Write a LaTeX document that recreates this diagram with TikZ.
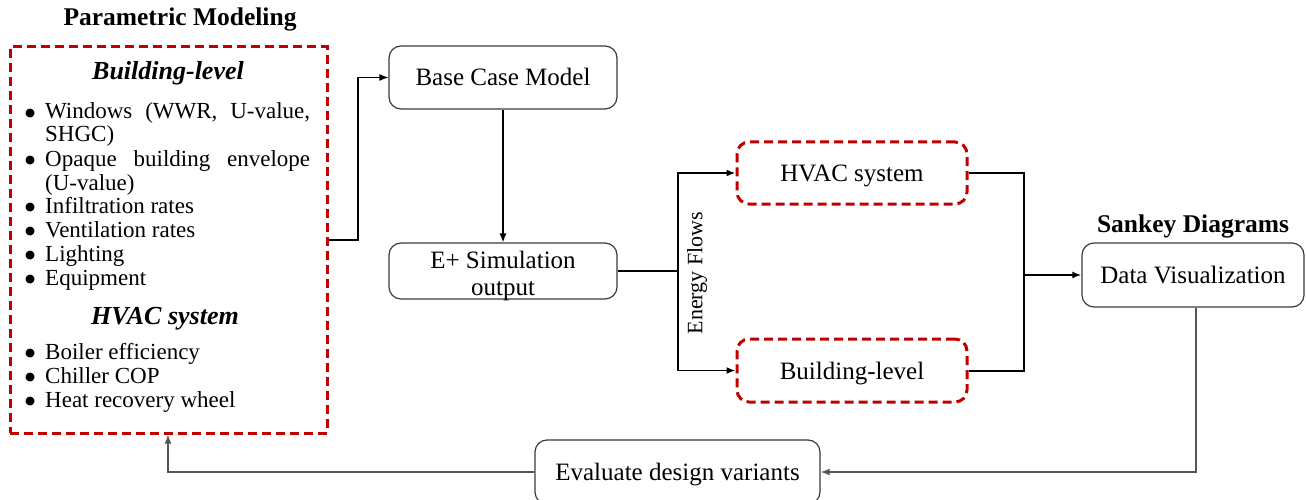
\documentclass[tikz,border=0pt]{standalone}
\usepackage{fontspec}
\setmainfont{Liberation Serif}
\newfontfamily\bulletfont{DejaVu Sans}
\usetikzlibrary{arrows.meta}
\definecolor{dred}{HTML}{C00000}
\definecolor{boxgray}{HTML}{3A3A3A}
\definecolor{fbgray}{HTML}{555555}
\newcommand{\bul}{\makebox[21pt][l]{\hspace{1pt}\raisebox{2.5pt}{\bulletfont\fontsize{11.5}{11.5}\selectfont ●}}}
\begin{document}
\begin{tikzpicture}[x=1pt,y=-1pt,
  proc/.style={draw=boxgray, line width=1.2pt, rounded corners=12pt, inner sep=0pt, align=center, font=\fontsize{25}{27}\selectfont, text height=17pt, text depth=0pt},
  boxonly/.style={draw=boxgray, line width=1.2pt, rounded corners=12pt, inner sep=0pt},
  redproc/.style={draw=dred, line width=3pt, dash pattern=on 9pt off 5pt, rounded corners=12pt, inner sep=0pt, align=center, font=\fontsize{25}{27}\selectfont, text height=17pt, text depth=0pt},
  conn/.style={line width=1.3pt, -{Latex[length=9pt,width=7pt]}},
  fbconn/.style={draw=fbgray, line width=1.6pt, -{Latex[length=9pt,width=7pt]}},
  thickline/.style={line width=2pt},
  item/.style={anchor=base west, inner sep=0pt, font=\fontsize{23}{25}\selectfont},
  subhead/.style={anchor=base, inner sep=0pt, font=\fontsize{26}{28}\selectfont\bfseries\itshape},
  heading/.style={anchor=base, inner sep=0pt, font=\fontsize{25.5}{28}\selectfont\bfseries}
]
\useasboundingbox (0,0) rectangle (1306,500);

% Parametric modelling box
\node[heading] (ttl) at (180,26) {Parametric Modeling};
\node[draw=dred, line width=3pt, dash pattern=on 9pt off 5pt, minimum width=317pt, minimum height=386pt, inner sep=0pt] (param) at (168.5,240) {};
\node[subhead] (sh1) at (168,80) {Building-level};
\node[item] (i1) at (24,119) {\bul\makebox[265pt][s]{Windows (WWR, U-value,}};
\node[item] (i1b) at (45,142) {SHGC)};
\node[item] (i2) at (24,166) {\bul\makebox[265pt][s]{Opaque building envelope}};
\node[item] (i2b) at (45,190) {(U-value)};
\node[item] (i3) at (24,213) {\bul Infiltration rates};
\node[item] (i4) at (24,237) {\bul Ventilation rates};
\node[item] (i5) at (24,261) {\bul Lighting};
\node[item] (i6) at (24,285) {\bul Equipment};
\node[subhead] (sh2) at (165,324) {HVAC system};
\node[item] (i7) at (24,359) {\bul Boiler efficiency};
\node[item] (i8) at (24,383) {\bul Chiller COP};
\node[item] (i9) at (24,407) {\bul Heat recovery wheel};

% process boxes
\node[proc, minimum width=228pt, minimum height=63pt] (base) at (503,77.5) {Base Case Model};
\node[boxonly, minimum width=228pt, minimum height=56pt] (sim) at (503,271) {};
\node[align=center, inner sep=0pt, font=\fontsize{25}{27}\selectfont] (simtxt) at (503,276) {E+ Simulation\\output};
\node[redproc, minimum width=230pt, minimum height=62pt] (hvac) at (852,173) {HVAC system};
\node[redproc, minimum width=230pt, minimum height=63pt] (bldg) at (852,370.5) {Building-level};
\node[proc, minimum width=222pt, minimum height=64pt] (viz) at (1193,275) {Data Visualization};
\node[heading] (sk) at (1193,232) {Sankey Diagrams};
\node[proc, minimum width=285pt, minimum height=64pt] (eval) at (677.5,472) {Evaluate design variants};
\node[rotate=90, inner sep=0pt, font=\fontsize{22}{24}\selectfont] (ef) at (697,273) {Energy Flows};

% connectors
\coordinate (j1) at (358,240);
\draw[conn] (param.east |- j1) -- (j1) |- (base.west);
\draw[conn] (base.south) -- (sim.north);
\coordinate (ja) at (678,271);
\draw[thickline] (sim.east) -- (ja);
\draw[conn, line width=1.8pt] (ja) |- (hvac.west);
\draw[conn, line width=1.8pt] (ja) |- (bldg.west);
\coordinate (jb) at (1024,275);
\draw[thickline] (hvac.east) -| (jb);
\draw[thickline] (bldg.east) -| (jb);
\draw[conn, line width=1.8pt] (jb) -- (viz.west);
\coordinate (jc) at (1196,472);
\draw[fbconn] (jc |- viz.south) -- (jc) -- (eval.east);
\coordinate (jd) at (168,472);
\draw[fbconn] (eval.west) -- (jd) -- (jd |- param.south);
\end{tikzpicture}
\end{document}
